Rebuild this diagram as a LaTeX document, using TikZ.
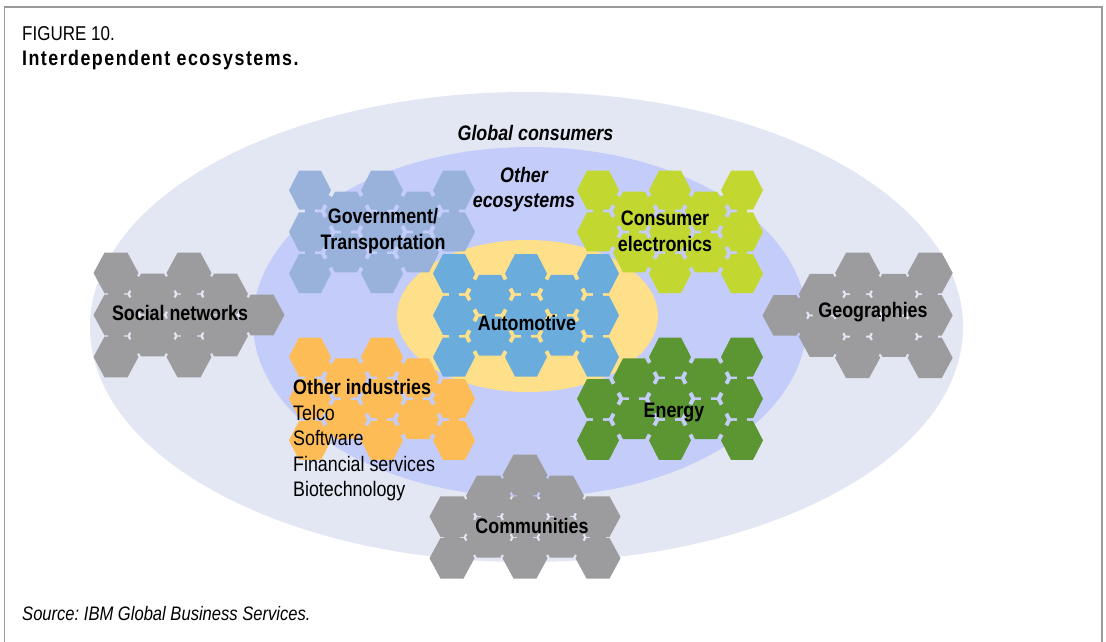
\documentclass[tikz,border=0pt]{standalone}
\usepackage{fontspec}
\setmainfont{Liberation Sans}[FakeStretch=0.85]
\frenchspacing
\definecolor{outerc}{HTML}{E2E7F3}
\definecolor{midc}{HTML}{C4CCFA}
\definecolor{yelc}{HTML}{FEDF8A}
\definecolor{govc}{HTML}{98B2DC}
\definecolor{cec}{HTML}{C2D830}
\definecolor{autoc}{HTML}{6AADDD}
\definecolor{enc}{HTML}{5C9633}
\definecolor{othc}{HTML}{FDBC56}
\definecolor{grayc}{HTML}{9C9C9E}
\definecolor{bordc}{HTML}{9A9A9A}
\tikzset{
  lbl/.style={font=\fontsize{21}{26}\selectfont\bfseries, inner sep=0pt, text=black},
  lbli/.style={font=\fontsize{21}{25}\selectfont\bfseries\itshape, inner sep=0pt, text=black},
  listtxt/.style={font=\fontsize{21}{25.5}\selectfont, inner sep=0pt, text=black, align=left},
}
\newcommand\hexcluster[6]{%
  \foreach \ci/\ri in {#6}{%
    \foreach \cj/\rj in {#6}{%
      \pgfmathtruncatemacro\adj{((\cj==\ci && \rj-\ri==2) || (\cj-\ci==1 && abs(\rj-\ri)==1)) ? 1 : 0}%
      \ifnum\adj=1
        \draw[line width=\bw, #1] ({#2+#4*\ci},{#3+#5*\ri}) -- ({#2+#4*\cj},{#3+#5*\rj});
      \fi
    }%
    \fill[#1] ({#2+#4*\ci},{#3+#5*\ri}) ++(-\hw,0) -- ++({\hw-\he},-\hh) -- ++({2*\he},0)
      -- ++({\hw-\he},\hh) -- ++({\he-\hw},\hh) -- ++({-2*\he},0) -- cycle;
  }%
}
\begin{document}
\frenchspacing
\begin{tikzpicture}[x=1pt,y=-1pt]
\useasboundingbox (0,0) rectangle (1106,641);
\fill[white] (0,0) rectangle (1106,641);
\draw[bordc, line width=1.5pt] (4.5,7) rectangle (1102,660);

% ecosystem rings
\fill[outerc] (526.5,327) ellipse [x radius=436.5, y radius=235];
\fill[midc] (530,322) ellipse [x radius=277, y radius=175];
\fill[yelc] (527.5,316) ellipse [x radius=130.5, y radius=76];

% coloured clusters
\def\hw{21}\def\hh{19.5}\def\he{11}\def\bw{10pt}
\hexcluster{govc}{310}{190.2}{36}{20.85}{0/0,0/2,0/4,1/1,1/3,2/0,2/2,2/4,3/1,3/3,4/0,4/2}
\hexcluster{cec}{598}{190.2}{36}{20.85}{0/0,0/2,1/1,1/3,2/0,2/2,2/4,3/1,3/3,4/0,4/2,4/4}
\hexcluster{autoc}{454}{273.6}{36}{20.85}{0/0,0/2,0/4,1/1,1/3,2/0,2/2,2/4,3/1,3/3,4/0,4/2,4/4}
\hexcluster{enc}{598}{357}{36}{20.85}{0/2,0/4,1/1,1/3,2/0,2/2,2/4,3/1,3/3,4/0,4/2,4/4}
\hexcluster{othc}{310}{357}{36}{20.85}{0/0,0/2,0/4,1/1,1/3,2/0,2/2,2/4,3/1,3/3,4/2,4/4}

% grey clusters
\def\hw{22.5}\def\hh{20.3}\def\he{11.5}\def\bw{16pt}
\hexcluster{grayc}{116}{273}{36.5}{21}{0/0,0/2,0/4,1/1,1/3,2/0,2/2,2/4,3/1,3/3,4/2}
\hexcluster{grayc}{785}{273}{36.3}{21.2}{0/2,1/1,1/3,2/0,2/2,2/4,3/1,3/3,4/0,4/2,4/4}
\hexcluster{grayc}{452}{475}{36.5}{20.8}{0/2,0/4,1/1,1/3,2/0,2/2,2/4,3/1,3/3,4/2,4/4}

% labels
\node[anchor=base west, inner sep=0pt, font=\fontsize{20}{24}\selectfont] (fig) at (22,40) {FIGURE 10.};
\node[anchor=base west, inner sep=0pt, font=\fontsize{21}{24}\selectfont\bfseries\addfontfeatures{LetterSpace=7}] (title) at (22,65) {Interdependent ecosystems.};
\node[lbli, anchor=base] (glob) at (535.5,140) {Global consumers};
\node[lbli, align=center] (oth) at (524,190) {Other\\ecosystems};
\node[lbl, align=center] (gov) at (383,231) {Government/\\Transportation};
\node[lbl, align=center] (ce) at (665,231.5) {Consumer\\electronics};
\node[lbl, anchor=base] (auto) at (527,330) {Automotive};
\node[lbl, anchor=base] (soc) at (180,320) {Social networks};
\node[lbl, anchor=base] (geo) at (873,317) {Geographies};
\node[lbl, anchor=base] (en) at (674,417) {Energy};
\node[lbl, anchor=base] (com) at (532,533) {Communities};
\node[listtxt, anchor=west] (ind) at (293,440.5) {\textbf{Other industries}\\Telco\\Software\\Financial services\\Biotechnology};
\node[anchor=base west, inner sep=0pt, font=\fontsize{19.5}{24}\selectfont\itshape] (src) at (22,620) {Source: IBM Global Business Services.};
\end{tikzpicture}
\end{document}
